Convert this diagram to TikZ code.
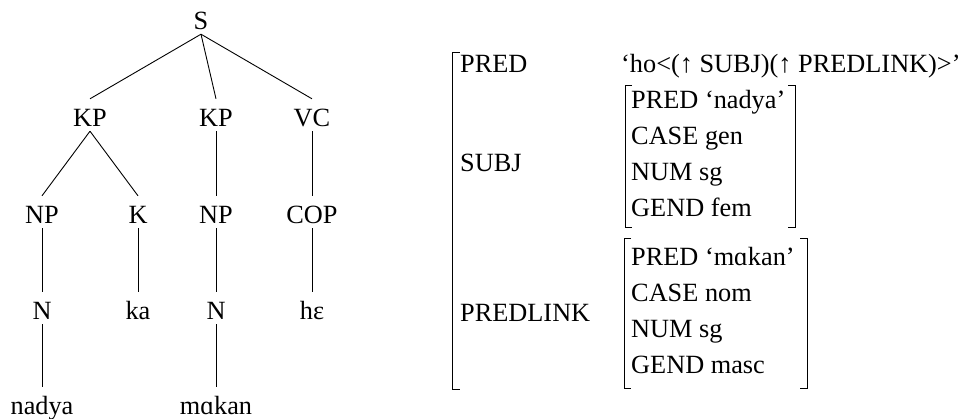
\documentclass[tikz,border=0pt]{standalone}
\usepackage{fontspec}
\setmainfont{Liberation Serif}
\begin{document}
\begin{tikzpicture}[x=1pt,y=-1pt,
  font=\fontsize{26.3}{31}\selectfont,
  cat/.style={anchor=base, inner sep=0pt, text height=27pt, text depth=5pt},
  edge/.style={line width=0.9pt},
  feat/.style={anchor=base west, inner sep=0pt},
  brk/.style={line width=1pt}]
\useasboundingbox (0,0) rectangle (969,418);

% c-structure tree
\node[cat] (S)    at (201,29)  {S};
\node[cat] (KPa)  at (90,126)  {KP};
\node[cat] (KPb)  at (216,126) {KP};
\node[cat] (VC)   at (312,126) {VC};
\node[cat] (NPa)  at (42,223)  {NP};
\node[cat] (K)    at (138,223) {K};
\node[cat] (NPb)  at (216,223) {NP};
\node[cat] (COP)  at (312,223) {COP};
\node[cat] (Na)   at (42,319)  {N};
\node[cat] (ka)   at (138,319) {ka};
\node[cat] (Nb)   at (216,319) {N};
\node[cat] (he)   at (312,319) {hɛ};
\node[cat] (nadya) at (42,414) {nadya};
\node[cat] (makan) at (216,414) {mɑkan};

\draw[edge] (S.south) -- (KPa.north);
\draw[edge] (S.south) -- (KPb.north);
\draw[edge] (S.south) -- (VC.north);
\draw[edge] (KPa.south) -- (NPa.north);
\draw[edge] (KPa.south) -- (K.north);
\draw[edge] (KPb.south) -- (NPb.north);
\draw[edge] (VC.south) -- (COP.north);
\draw[edge] (NPa.south) -- (Na.north);
\draw[edge] (K.south) -- (ka.north);
\draw[edge] (NPb.south) -- (Nb.north);
\draw[edge] (COP.south) -- (he.north);
\draw[edge] (Na.south) -- (nadya.north);
\draw[edge] (Nb.south) -- (makan.north);

% f-structure
\draw[brk] (459.5,52) -- (452,52) -- (452,389) -- (459.5,389);

\node[feat] (fpred)  at (460,72)  {PRED};
\node[feat] (fval)   at (621,72)  {‘ho<(↑ SUBJ)(↑ PREDLINK)>’};
\node[feat] (fsubj)  at (460,171) {SUBJ};
\node[feat] (flink)  at (460,321) {PREDLINK};

% SUBJ value
\draw[brk] (632,85) -- (625,85) -- (625,227) -- (632,227);
\draw[brk] (788,85) -- (795,85) -- (795,227) -- (788,227);
\node[feat] (s1) at (631,108) {PRED ‘nadya’};
\node[feat] (s2) at (631,144) {CASE gen};
\node[feat] (s3) at (631,180) {NUM sg};
\node[feat] (s4) at (631,216) {GEND fem};

% PREDLINK value
\draw[brk] (631,238) -- (624,238) -- (624,388) -- (631,388);
\draw[brk] (800,238) -- (807,238) -- (807,388) -- (800,388);
\node[feat] (p1) at (631,265) {PRED ‘mɑkan’};
\node[feat] (p2) at (631,301) {CASE nom};
\node[feat] (p3) at (631,337) {NUM sg};
\node[feat] (p4) at (631,373) {GEND masc};
\end{tikzpicture}
\end{document}
